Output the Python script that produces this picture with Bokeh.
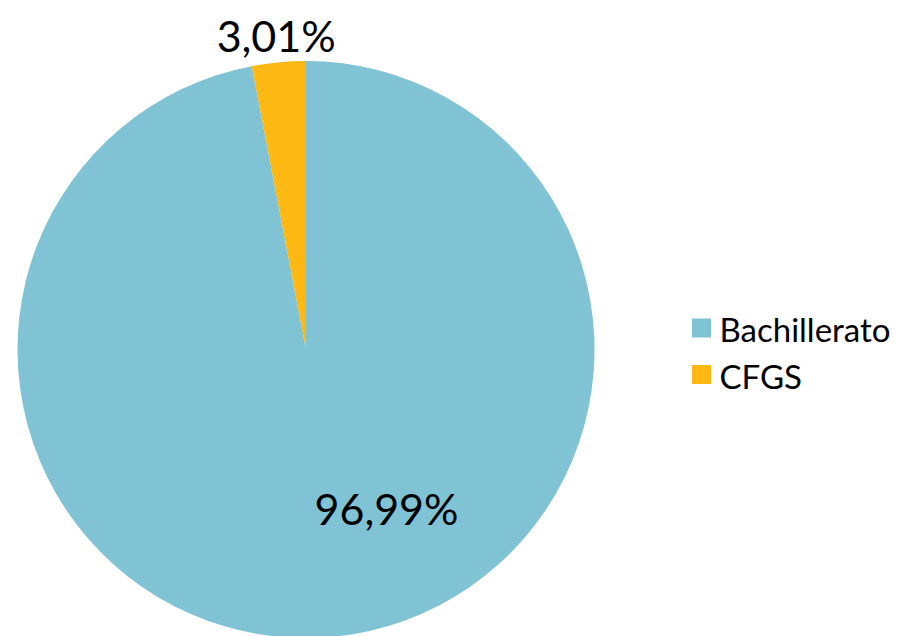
import math
from bokeh.plotting import figure
from bokeh.models import Range1d, ColumnDataSource
from bokeh.core.properties import value
from bokeh.embed import file_html
from bokeh.resources import INLINE

categories = ["Bachillerato", "CFGS"]
values = [96.99, 3.01]
labels = ["96,99%", "3,01%"]
colors = ["#7FC3D4", "#FDB813"]

W, H = 908, 636
cx, cy, R = 305.5, H - 349.0, 288.5
FONT = "Lato"

# Excel-style: start at 12 o'clock, go clockwise
total = sum(values)
starts, ends = [], []
a = math.pi / 2
for v in values:
    starts.append(a)
    a = a - 2 * math.pi * v / total
    ends.append(a)

p = figure(width=W, height=H, output_backend="svg", toolbar_location=None,
           x_range=Range1d(0, W), y_range=Range1d(0, H), min_border=0)
p.axis.visible = False
p.grid.visible = False
p.outline_line_color = None
p.background_fill_color = "white"
p.border_fill_color = "white"

src = ColumnDataSource(dict(cat=categories, val=values, start=starts, end=ends, color=colors))
p.wedge(x=cx, y=cy, radius=R, start_angle="start", end_angle="end", direction="clock",
        fill_color="color", line_color=None, source=src)

# data labels
mid_small = (starts[1] + ends[1]) / 2
lx = [cx + 80.5, cx + 1.095 * R * math.cos(mid_small)]
ly = [cy - 159, cy + 1.095 * R * math.sin(mid_small)]
p.text(x=lx, y=ly, text=labels, text_font=value(FONT), text_font_size="43px",
       text_align="center", text_baseline="middle", text_color="black")

# legend
leg_y = [H - 327.5, H - 374]
p.rect(x=[701, 701], y=leg_y, width=19, height=19, fill_color=colors, line_color=None)
p.text(x=[719, 719], y=[y - 1 for y in leg_y], text=categories, text_font=value(FONT),
       text_font_size="33px", text_align="left", text_baseline="middle", text_color="black")

open("out.html", "w").write(file_html(p, INLINE))
